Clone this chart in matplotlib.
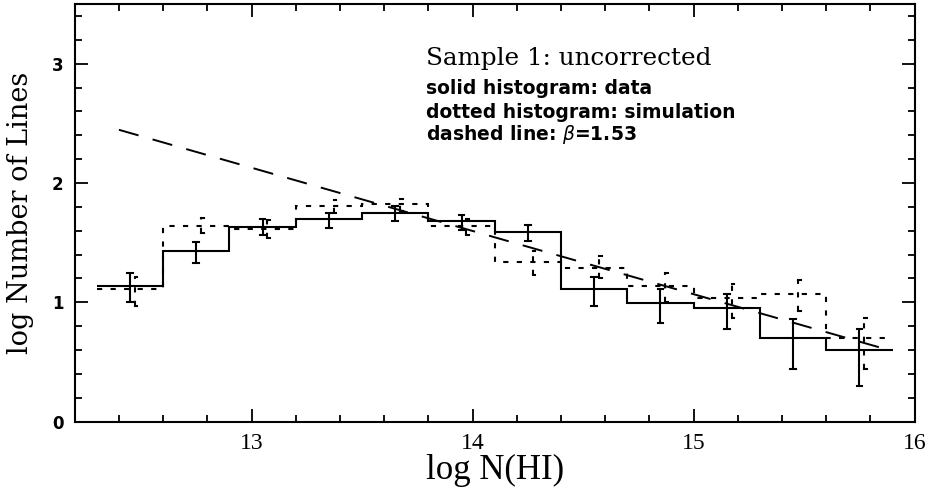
import matplotlib
matplotlib.use("Agg")
import matplotlib.pyplot as plt
from matplotlib.ticker import MultipleLocator

# ---- data ----
bin_edges = [12.3, 12.6, 12.9, 13.2, 13.5, 13.8, 14.1, 14.4, 14.7, 15.0, 15.3, 15.6, 15.9]

data_logn = [1.14, 1.43, 1.635, 1.695, 1.745, 1.68, 1.59, 1.113, 0.996, 0.949, 0.698, 0.600]
data_err_hi = [1.242, 1.504, 1.696, 1.752, 1.805, 1.735, 1.649, 1.213, 1.111, 1.074, 0.859, 0.776]
data_err_lo = [1.004, 1.331, 1.568, 1.627, 1.682, 1.610, 1.512, 0.971, 0.829, 0.776, 0.438, 0.301]

sim_logn = [1.108, 1.643, 1.615, 1.808, 1.827, 1.640, 1.339, 1.292, 1.141, 1.035, 1.074, 0.698]
sim_err_hi = [1.213, 1.707, 1.688, 1.861, 1.869, 1.702, 1.428, 1.387, 1.247, 1.158, 1.186, 0.865]
sim_err_lo = [0.971, 1.579, 1.543, 1.749, 1.763, 1.568, 1.233, 1.200, 1.007, 0.873, 0.929, 0.438]

fit_x = [12.4, 15.85]
fit_y = [2.446, 0.618]

x_ticks = [13, 14, 15, 16]
y_ticks = [0, 1, 2, 3]

title_text = "Sample 1: uncorrected"
note_lines = ["solid histogram: data", "dotted histogram: simulation", r"dashed line: $\beta$=1.53"]

# ---- figure ----
fig = plt.figure(figsize=(9.31, 4.98), dpi=100)
ax = fig.add_axes([74.7 / 931, 1 - 421.7 / 498, 840 / 931, 417.7 / 498])
ax.set_xlim(12.2, 16.0)
ax.set_ylim(0, 3.5)

centers = [(a + b) / 2 for a, b in zip(bin_edges[:-1], bin_edges[1:])]
sim_offset = 0.022

# solid histogram (data)
ax.stairs(data_logn, bin_edges, baseline=None, color="black", lw=1.5)
for c, lo, hi in zip(centers, data_err_lo, data_err_hi):
    ax.plot([c, c], [lo, hi], color="black", lw=1.5, solid_capstyle="butt")
    ax.plot([c - 0.013, c + 0.013], [lo, lo], color="black", lw=1.5)
    ax.plot([c - 0.013, c + 0.013], [hi, hi], color="black", lw=1.5)

# dotted histogram (simulation)
ax.stairs(sim_logn, bin_edges, baseline=None, color="black", lw=1.5,
          linestyle=(0, (2.5, 4.0)))
for c, lo, hi in zip(centers, sim_err_lo, sim_err_hi):
    cx = c + sim_offset
    ax.plot([cx, cx], [lo, hi], color="black", lw=1.5, linestyle=(0, (2.5, 4.0)))
    ax.plot([cx, cx + 0.012], [lo, lo], color="black", lw=1.5)
    ax.plot([cx, cx + 0.012], [hi, hi], color="black", lw=1.5)

# dashed power law
ax.plot(fit_x, fit_y, color="black", lw=1.4, linestyle=(0, (10.5, 7.5)))

# texts
ax.text(13.79, 2.985, title_text, family="DejaVu Serif", fontsize=17.7, va="baseline", ha="left")
note_y = [2.748, 2.547, 2.357]
for t, yy in zip(note_lines, note_y):
    ax.text(13.79, yy, t, family="DejaVu Sans", fontsize=13.5, fontweight="bold",
            va="baseline", ha="left")

# axes styling
for s in ax.spines.values():
    s.set_linewidth(1.5)
ax.set_xticks(x_ticks)
ax.set_yticks(y_ticks)
ax.xaxis.set_minor_locator(MultipleLocator(0.2))
ax.yaxis.set_minor_locator(MultipleLocator(0.2))
ax.tick_params(which="both", direction="in", top=True, right=True, width=1.3)
ax.tick_params(which="major", length=9.5)
ax.tick_params(which="minor", length=5)
ax.tick_params(axis="x", which="major", pad=8)
ax.tick_params(axis="y", which="major", pad=8)
for lab in ax.get_xticklabels():
    lab.set_family("Liberation Serif")
    lab.set_fontsize(17)
for lab in ax.get_yticklabels():
    lab.set_family("DejaVu Sans")
    lab.set_fontweight("bold")
    lab.set_fontsize(12)

ax.set_xlabel("log N(HI)", family="Liberation Serif", fontsize=25)
ax.set_ylabel("log Number of Lines", family="DejaVu Serif", fontsize=19.5)
ax.yaxis.set_label_coords(-0.049, 0.5)
ax.xaxis.set_label_coords(0.5, -0.078)

fig.savefig("out.png", dpi=100)
